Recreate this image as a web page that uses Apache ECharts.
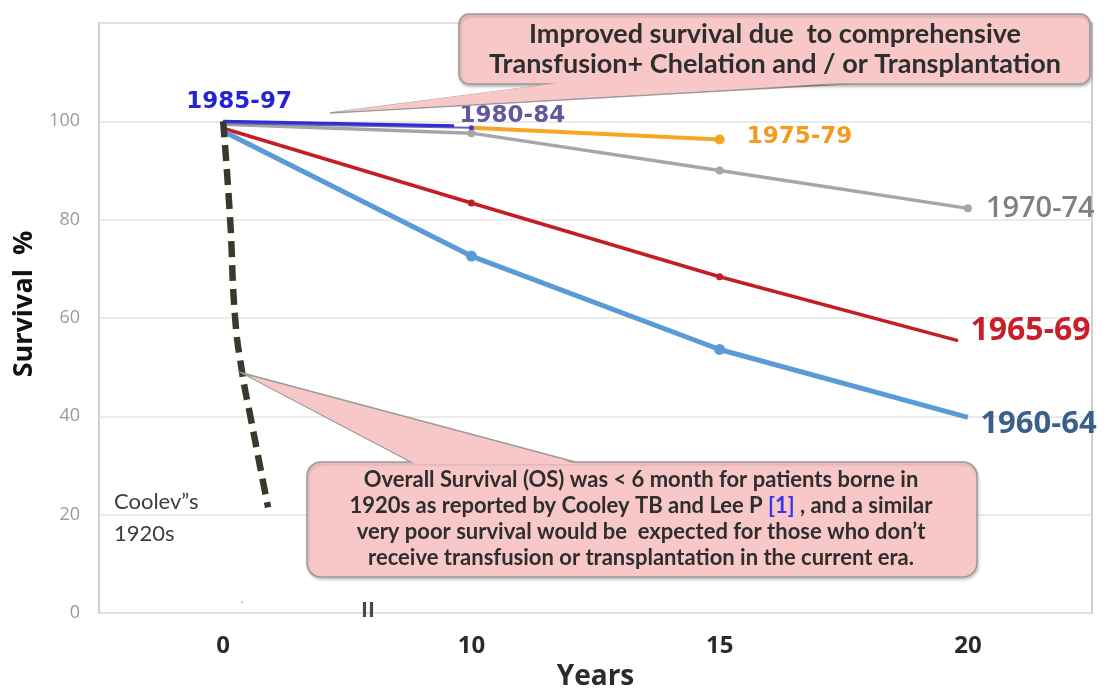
<!DOCTYPE html>
<html>
<head>
<meta charset="utf-8">
<script src="https://cdn.jsdelivr.net/npm/echarts@6/dist/echarts.min.js"></script>
<style>
html,body{margin:0;padding:0;background:#fff;}
#main{width:1107px;height:688px;}
</style>
</head>
<body>
<div id="main"></div>
<script>
// ---- data (x: 0=>0 y, 1=>10 y, 2=>15 y, 3=>20 y) ----
const xTickPositions = [0, 1, 2, 3];
const xTickLabels = ['0', '10', '15', '20'];
const yTickLabels = ['0', '20', '40', '60', '80', '100'];

const s1985_97 = [[0, 100], [0.93, 99.1]];
const s1980_84 = [[0, 99.6], [1, 98.7]];
const s1975_79 = [[1, 98.7], [2, 96.3]];
const s1970_74 = [[0, 99.4], [1, 97.6], [2, 90.0], [3, 82.3]];
const s1965_69 = [[0, 98.6], [1, 83.4], [2, 68.4], [2.96, 55.4]];
const s1960_64 = [[0, 98.0], [1, 72.6], [2, 53.6], [3, 39.8]];
const sCooley = [[0, 100], [0.028, 80.3], [0.048, 60.2], [0.077, 48.8], [0.109, 40.2], [0.181, 21.5]];

const seriesNames = ['1985-97', '1980-84', '1975-79', '1970-74', '1965-69', '1960-64', "Cooley's 1920s"];

// ---- chart ----
const chart = echarts.init(document.getElementById('main'), null, {renderer: 'canvas'});

function withMarkers(arr, sizes, labelIdx, label) {
  return arr.map((p, i) => {
    const item = {value: p, symbolSize: sizes[i] || 0};
    if (i === labelIdx) {
      item.label = Object.assign({show: true}, label);
      if (!sizes[i]) item.symbolSize = 1;
    } else if (!sizes[i]) {
      item.symbol = 'none';
    }
    return item;
  });
}

const labelFontA = 'DejaVu Sans';
const labelFontB = 'Open Sans';

const option = {
  backgroundColor: '#ffffff',
  animation: false,
  grid: {left: 99, right: 15, top: 23, bottom: 75, outerBoundsMode: 'none', containLabel: false,
    show: true, borderColor: '#cfcfcf', borderWidth: 2, backgroundColor: 'transparent'},
  xAxis: {
    type: 'value', min: -0.5, max: 3.5, interval: 0.5,
    axisLine: {show: false}, axisTick: {show: false}, splitLine: {show: false},
    axisLabel: {
      margin: 21, fontSize: 24, fontWeight: 'bold', color: '#2b2b2b', fontFamily: labelFontB,
      formatter: v => { const i = xTickPositions.indexOf(v); return i >= 0 ? xTickLabels[i] : ''; }
    },
    name: 'Years', nameLocation: 'middle', nameGap: 50,
    nameTextStyle: {fontSize: 28, fontWeight: 'bold', color: '#2b2b2b', fontFamily: labelFontB}
  },
  yAxis: {
    type: 'value', min: 0, max: 120, interval: 20,
    axisLine: {show: false}, axisTick: {show: false},
    splitLine: {show: true, lineStyle: {color: '#e4e4e4', width: 1.5}},
    axisLabel: {
      margin: 19, fontSize: 18, color: '#9a9a9a', fontFamily: labelFontB,
      formatter: v => { const i = yTickLabels.indexOf(String(v)); return i >= 0 ? yTickLabels[i] : ''; }
    },
    name: 'Survival  %', nameLocation: 'middle', nameGap: 52,
    nameTextStyle: {fontSize: 27, fontWeight: 'bold', color: '#111', fontFamily: labelFontB, padding: [0, 0, 0, 28]}
  },
  series: [
    {
      name: seriesNames[3], type: 'line', z: 2,
      data: withMarkers(s1970_74, [0, 8, 8, 8], 3,
        {position: 'right', distance: 14, color: '#7f7f7f', fontSize: 29, fontWeight: 600, fontFamily: labelFontB, formatter: seriesNames[3]}),
      symbol: 'circle', lineStyle: {color: '#a6a6a6', width: 3.5}, itemStyle: {color: '#a6a6a6'}
    },
    {
      name: seriesNames[1], type: 'line', z: 3,
      data: withMarkers(s1980_84, [0, 5], 1,
        {position: 'top', distance: 2, offset: [41, 4], color: '#6258a0', fontSize: 23, fontWeight: 'bold', fontFamily: labelFontA, formatter: seriesNames[1]}),
      symbol: 'circle', lineStyle: {color: '#6a62b0', width: 2}, itemStyle: {color: '#3a3ad0'}
    },
    {
      name: seriesNames[2], type: 'line', z: 3,
      data: withMarkers(s1975_79, [0, 10], 1,
        {position: 'right', distance: 22, offset: [0, -2], color: '#f59a1c', fontSize: 23, fontWeight: 'bold', fontFamily: labelFontA, formatter: seriesNames[2]}),
      symbol: 'circle', lineStyle: {color: '#f7a623', width: 4}, itemStyle: {color: '#f7a623'}
    },
    {
      name: seriesNames[0], type: 'line', z: 4,
      data: withMarkers(s1985_97, [0, 0], 0,
        {position: 'top', distance: 5, offset: [16, -2], color: '#2424d4', fontSize: 23, fontWeight: 'bold', fontFamily: labelFontA, formatter: seriesNames[0]}),
      symbol: 'circle', lineStyle: {color: '#2e2ed6', width: 3}, itemStyle: {color: '#2e2ed6'}
    },
    {
      name: seriesNames[4], type: 'line', z: 4,
      data: withMarkers(s1965_69, [0, 7, 7, 0], 3,
        {position: 'right', distance: 12, offset: [0, -10], color: '#c8202a', fontSize: 32, fontWeight: 'bold', fontFamily: labelFontB, formatter: seriesNames[4]}),
      symbol: 'circle', lineStyle: {color: '#c41e24', width: 3.5}, itemStyle: {color: '#c41e24'}
    },
    {
      name: seriesNames[5], type: 'line', z: 4,
      data: withMarkers(s1960_64, [0, 11, 11, 0], 3,
        {position: 'right', distance: 12, offset: [0, 7], color: '#3a5f88', fontSize: 31, fontWeight: 'bold', fontFamily: labelFontB, formatter: seriesNames[5]}),
      symbol: 'circle', lineStyle: {color: '#5b9bd5', width: 5}, itemStyle: {color: '#5b9bd5'}
    },
    {
      name: seriesNames[6], type: 'line', z: 5, smooth: true, symbol: 'none',
      data: sCooley,
      lineStyle: {color: '#3a3a2c', width: 6.5, type: [16, 8]}
    }
  ]
};
chart.setOption(option);

// ---- annotations (callouts anchored to data points) ----
const tipTop = chart.convertToPixel({gridIndex: 0}, [0.431, 101.7]);
const tipBottom = chart.convertToPixel({gridIndex: 0}, sCooley[3]);

const pink = '#f8c8c8';
const edge = '#9a9a9a';

chart.setOption({
  graphic: [
    // top callout
    {type: 'polygon', z: 100, shape: {points: [tipTop, [563, 83], [862, 83]]}, style: {fill: pink, stroke: edge, lineWidth: 1.5}},
    {type: 'rect', z: 101, shape: {x: 459, y: 14, width: 631, height: 70, r: 10},
      style: {fill: pink, stroke: edge, lineWidth: 1.5, shadowBlur: 3, shadowColor: 'rgba(0,0,0,0.25)', shadowOffsetX: 1, shadowOffsetY: 2}},
    {type: 'polygon', z: 102, shape: {points: [[tipTop[0] + 6, tipTop[1] - 1], [565, 82], [858, 82]]}, style: {fill: pink}},
    {type: 'text', z: 103, style: {
      text: 'Improved survival due  to comprehensive\nTransfusion+ Chelation and / or Transplantation',
      x: 775, y: 49, align: 'center', verticalAlign: 'middle', lineHeight: 30,
      font: 'bold 27px Lato', fill: '#2e2e2e'}},
    // bottom callout
    {type: 'polygon', z: 100, shape: {points: [tipBottom, [413, 463], [579, 463]]}, style: {fill: pink, stroke: edge, lineWidth: 1.5}},
    {type: 'rect', z: 101, shape: {x: 307, y: 462, width: 670, height: 115, r: 14},
      style: {fill: pink, stroke: edge, lineWidth: 1.5, shadowBlur: 3, shadowColor: 'rgba(0,0,0,0.2)', shadowOffsetX: 1, shadowOffsetY: 2}},
    {type: 'polygon', z: 102, shape: {points: [[tipBottom[0] + 8, tipBottom[1] + 4], [416, 464], [576, 464]]}, style: {fill: pink}},
    {type: 'text', z: 103, style: {
      text: 'Overall Survival (OS) was < 6 month for patients borne in\n1920s as reported by Cooley TB and Lee P {b|[1]} , and a similar\nvery poor survival would be  expected for those who don\u2019t\nreceive transfusion or transplantation in the current era.',
      x: 641, y: 519, align: 'center', verticalAlign: 'middle', lineHeight: 26,
      font: 'bold 22px Lato', fill: '#2e2e2e',
      rich: {b: {fill: '#3535f0', font: 'bold 22px Lato'}}}},
    // Cooley text
    {type: 'text', z: 50, style: {text: 'Coolev\u201ds\n1920s', x: 114, y: 518, verticalAlign: 'middle', lineHeight: 32,
      font: '22px Lato', fill: '#3e3e3e'}},
    // axis break mark
    {type: 'text', z: 50, style: {text: 'II', x: 368, y: 611, align: 'center', verticalAlign: 'middle', font: 'bold 21px "Open Sans"', fill: '#4a4a4a'}},
    {type: 'text', z: 50, style: {text: '\u02d9', x: 242, y: 608, align: 'center', verticalAlign: 'middle', font: '14px "Open Sans"', fill: '#777'}}
  ]
});
</script>
</body>
</html>
